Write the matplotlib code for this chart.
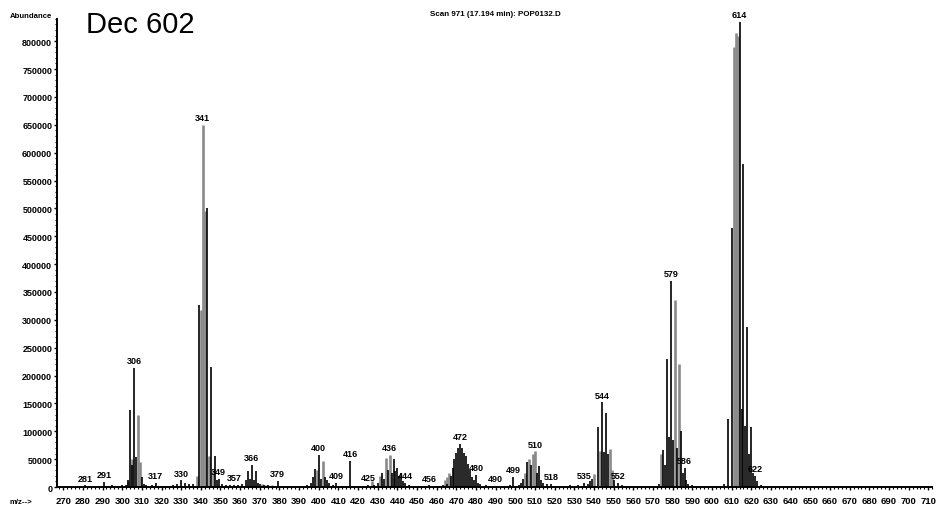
import matplotlib.pyplot as plt
from matplotlib.ticker import MultipleLocator

plt.rcParams['font.family'] = ['Liberation Sans', 'DejaVu Sans']

# ion lines drawn in black: m/z and abundance
black_mz = [281, 283, 285, 288, 291, 293, 295, 298, 300, 302, 303, 304, 305, 306, 307,
            310, 311, 312, 315, 317, 320, 323, 326, 328, 330, 332, 334, 336,
            339, 343, 345, 347, 348, 349, 351, 353, 355, 357, 359, 361,
            363, 364, 365, 366, 367, 368, 369, 370, 372, 374, 379, 383, 387, 391,
            394, 396, 397, 398, 400, 401, 403, 404, 405, 407, 409, 412, 416, 420,
            425, 428, 430, 432, 433, 435, 437, 438, 439, 440, 441, 442, 443, 444,
            446, 449, 452, 456, 460, 463, 465, 467, 468, 469, 470, 471, 472, 473,
            474, 475, 476, 477, 478, 479, 480, 481, 482, 485, 487, 490, 494, 497,
            499, 502, 503, 504, 506, 508, 511, 512, 513, 514, 516, 518, 521, 525,
            528, 532, 535, 537, 538, 539, 542, 544, 545, 546, 547, 550, 552, 554,
            557, 562, 566, 570, 573, 575, 576, 577, 578, 579, 580, 582, 584, 585,
            586, 587, 588, 590, 595, 600, 604, 606, 608, 610, 614, 615, 616, 617,
            618, 619, 620, 621, 622, 623, 625, 630]
black_ab = [3000, 1500, 2000, 1500, 9000, 2000, 3000, 2000, 3000, 4000, 12000, 138000, 40000, 214000, 54000,
            18000, 6000, 4000, 3000, 7000, 2000, 2000, 3000, 5000, 12000, 8000, 6000, 5000,
            326000, 500000, 215000, 55000, 12000, 15000, 6000, 4000, 3000, 4000, 3000, 5000,
            12000, 28000, 15000, 40000, 12000, 28000, 8000, 6000, 4000, 3000, 11000, 2000, 2000, 2000,
            3000, 8000, 18000, 33000, 58000, 15000, 18000, 12000, 8000, 4000, 7000, 2000, 47000, 2000,
            4000, 3000, 8000, 25000, 15000, 30000, 25000, 50000, 28000, 35000, 20000, 25000, 10000, 8000,
            4000, 2000, 2000, 3000, 2000, 3000, 5000, 20000, 35000, 50000, 62000, 70000, 78000, 70000,
            62000, 55000, 42000, 30000, 18000, 12000, 22000, 8000, 5000, 3000, 2000, 2000, 2000, 3000,
            18000, 3000, 8000, 15000, 45000, 40000, 25000, 38000, 12000, 8000, 5000, 6000, 2000, 2000,
            3000, 3000, 8000, 5000, 10000, 15000, 107000, 152000, 63000, 133000, 60000, 12000, 8000, 4000,
            2000, 2000, 2000, 2000, 5000, 67000, 40000, 230000, 90000, 370000, 85000, 70000, 100000, 25000,
            34000, 12000, 6000, 3000, 2000, 2000, 2000, 5000, 123000, 464000, 835000, 140000, 580000, 110000,
            288000, 60000, 108000, 25000, 20000, 10000, 4000, 2000]

# ion lines drawn in grey
gray_mz = [303, 305, 308, 309, 338, 340, 341, 342, 344, 346, 371, 373, 376, 399, 402,
           427, 431, 434, 436, 464, 465, 466, 505, 507, 509, 510, 540, 543, 548, 549,
           574, 581, 583, 611, 612, 613]
gray_ab = [10000, 50000, 130000, 45000, 20000, 318000, 650000, 495000, 55000, 30000, 5000, 4000, 3000, 30000, 47000,
           10000, 20000, 52000, 58000, 12000, 18000, 25000, 25000, 50000, 60000, 64000, 23000, 65000, 68000, 30000,
           60000, 335000, 221000, 790000, 815000, 810000]

# m/z values annotated above their lines
labelled_mz = [281, 291, 306, 317, 330, 341, 349, 357, 366, 379, 400, 409, 416, 425, 436,
               444, 456, 472, 480, 490, 499, 510, 518, 535, 544, 552, 579, 586, 614, 622]

fig = plt.figure(figsize=(9.36, 5.10), dpi=100)
ax = fig.add_axes([0.061, 0.043, 0.935, 0.918])

ax.vlines(gray_mz, 0, gray_ab, colors='#8a8a8a', linewidth=1.9)
ax.vlines(black_mz, 0, black_ab, colors='black', linewidth=1.2)

tops = {}
for m, a in zip(black_mz + gray_mz, black_ab + gray_ab):
    tops[m] = max(tops.get(m, 0), a)
for m in labelled_mz:
    ax.text(m, tops[m] + 5000, str(m), ha='center', va='bottom', fontsize=6.5,
            fontweight='bold')

ax.set_xlim(266.9, 712)
ax.set_ylim(0, 840000)
ax.spines['top'].set_visible(False)
ax.spines['right'].set_visible(False)
for side in ('left', 'bottom'):
    ax.spines[side].set_linewidth(1.4)

ax.set_xticks(range(270, 711, 10))
ax.xaxis.set_minor_locator(MultipleLocator(2))
ax.set_yticks(range(0, 800001, 50000))
ax.yaxis.set_minor_locator(MultipleLocator(10000))
ax.tick_params(axis='x', which='major', length=2.5, width=1, pad=4, labelsize=6.8)
ax.tick_params(axis='y', which='major', length=2, width=1, pad=1.5, labelsize=6.5)
ax.tick_params(which='minor', length=1.5, width=0.8)
for lbl in ax.get_xticklabels() + ax.get_yticklabels():
    lbl.set_fontweight('bold')

fig.text(10 / 936, 1 - 17 / 510, 'Abundance', fontsize=5.6, fontweight='bold', va='center')
fig.text(10 / 936, 1 - 503 / 510, 'm/z-->', fontsize=5.6, fontweight='bold', va='center')
fig.text(86 / 936, 1 - 33 / 510, 'Dec 602', fontsize=21, va='baseline')
fig.text(495 / 936, 1 - 15 / 510, 'Scan 971 (17.194 min): POP0132.D', fontsize=5.8,
         fontweight='bold', ha='center', va='center')

fig.savefig('out.png', dpi=100)
